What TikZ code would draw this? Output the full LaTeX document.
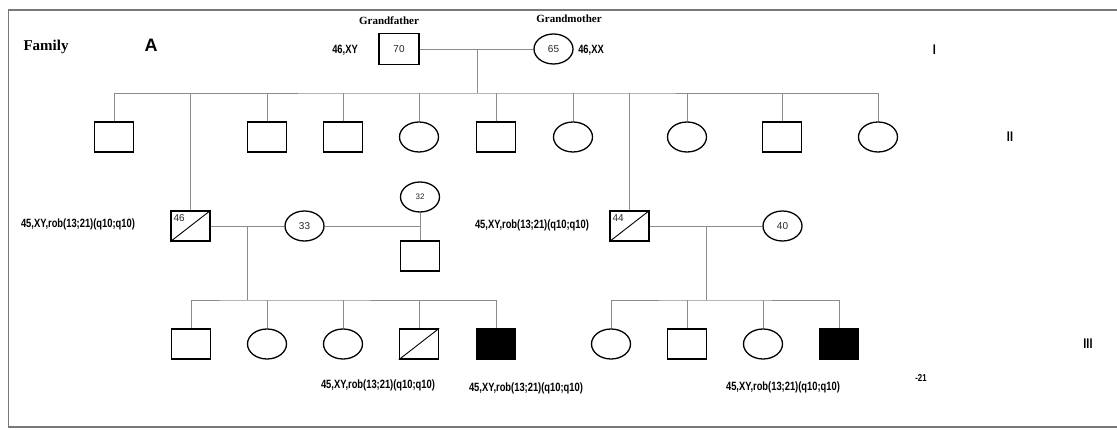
\documentclass[tikz,border=0pt]{standalone}
\usepackage{fontspec}
\setmainfont{Liberation Serif}
\setsansfont{Liberation Sans}
\newfontfamily\karfont[FakeStretch=0.78]{Liberation Sans}
\usetikzlibrary{shapes.geometric}
\definecolor{lnkgray}{RGB}{140,140,140}
\definecolor{framegray}{RGB}{120,120,120}

\begin{document}
\begin{tikzpicture}[x=1pt,y=-1pt,
  male/.style={draw,line width=1.3pt,minimum width=39pt,minimum height=30pt,inner sep=0pt,text=black!85,font=\sffamily\fontsize{10}{11}\selectfont},
  female/.style={male,ellipse},
  affected/.style={male,fill=black},
  lnk/.style={draw=lnkgray,line width=0.9pt},
  kar/.style={font=\karfont\bfseries\fontsize{12}{13}\selectfont,inner sep=1pt},
  gen/.style={font=\karfont\bfseries\fontsize{14}{15}\selectfont},
  ttl/.style={font=\bfseries\fontsize{11}{12}\selectfont,inner sep=1pt}]
  \useasboundingbox (0,0) rectangle (1117,430);
  \draw[framegray,line width=1.2pt] (1117,10) -- (8.5,10) -- (8.5,427) -- (1117,427);
  \node[font=\bfseries\fontsize{15}{16}\selectfont] (fam) at (46,47) {Family};
  \node[font=\sffamily\bfseries\fontsize{18}{19}\selectfont] (fa) at (151,45) {A};
  % generation I
  \node[male,minimum width=40pt,minimum height=31pt] (gf) at (399,49) {70};
  \node[female] (gm) at (553.5,49) {65};
  \node[ttl] (gfl) at (389,21) {Grandfather};
  \node[ttl] (gml) at (569,19) {Grandmother};
  \node[kar] (gfk) at (345,50) {46,XY};
  \node[kar] (gmk) at (591,50) {46,XX};
  \node[gen] (g1) at (934.5,50) {I};
  \coordinate (gmid) at (477.5,49);
  \coordinate (gsib) at (477.5,93);
  \draw[lnk] (gf) -- (gm);
  \draw[lnk] (gmid) -- (gsib);
  % generation II
  \node[male] (ii1) at (114,137) {};
  \node[male] (ii2) at (267,137) {};
  \node[male] (ii3) at (343,137) {};
  \node[female] (ii4) at (419,137) {};
  \node[male] (ii5) at (496,137) {};
  \node[female] (ii6) at (573,137) {};
  \node[female] (ii7) at (687,137) {};
  \node[male] (ii8) at (782,137) {};
  \node[female] (ii9) at (878,137) {};
  \node[gen] (g2) at (1010,137) {II};
  \draw[lnk] (ii1.north) |- (gsib) -| (ii9.north);
  \foreach \k in {ii2,ii3,ii4,ii5,ii6,ii7,ii8}
    \draw[lnk] (\k.north) -- (\k.north |- gsib);
  % couple 1
  \node[male] (p46) at (190.5,226) {};
  \draw[line width=0.9pt] (p46.south west) -- (p46.north east);
  \node[anchor=north west,inner sep=1pt,text=black!85,font=\sffamily\fontsize{10}{11}\selectfont] (n46) at ([shift={(2pt,-3pt)}]p46.north west) {46};
  \node[female] (w33) at (304.5,226) {33};
  \node[female,font=\sffamily\fontsize{8}{9}\selectfont] (w32) at (420,197) {32};
  \node[male] (s32) at (420,256) {};
  \node[kar] (k46) at (78,224) {45,XY,rob(13;21)(q10;q10)};
  \draw[lnk] (p46) -- (w33);
  \draw[lnk] (w33) -- (w33 -| w32);
  \draw[lnk] (w32) -- (s32);
  \draw[lnk] (p46.north) -- (p46.north |- gsib);
  % couple 2
  \node[male] (p44) at (629.5,226) {};
  \draw[line width=0.9pt] (p44.south west) -- (p44.north east);
  \node[anchor=north west,inner sep=1pt,text=black!85,font=\sffamily\fontsize{10}{11}\selectfont] (n44) at ([shift={(2pt,-3pt)}]p44.north west) {44};
  \node[female] (w40) at (782.5,226) {40};
  \node[kar] (k44) at (532,225) {45,XY,rob(13;21)(q10;q10)};
  \draw[lnk] (p44) -- (w40);
  \draw[lnk] (p44.north) -- (p44.north |- gsib);
  % generation III
  \node[male] (iii1) at (191,344) {};
  \node[female] (iii2) at (267,344) {};
  \node[female] (iii3) at (343,344) {};
  \node[male] (iii4) at (419,344) {};
  \draw[line width=0.9pt] (iii4.south west) -- (iii4.north east);
  \node[affected] (iii5) at (496,344) {};
  \node[female] (iii6) at (611,344) {};
  \node[male] (iii7) at (687,344) {};
  \node[female] (iii8) at (763,344) {};
  \node[affected] (iii9) at (839,344) {};
  \node[gen] (g3) at (1088,344) {III};
  \coordinate (m1) at (247,226);
  \coordinate (s1) at (247,300);
  \coordinate (m2) at (706,226);
  \coordinate (s2) at (706,300);
  \draw[lnk] (m1) -- (s1);
  \draw[lnk] (iii1.north) |- (s1) -| (iii5.north);
  \foreach \k in {iii2,iii3,iii4}
    \draw[lnk] (\k.north) -- (\k.north |- s1);
  \draw[lnk] (m2) -- (s2);
  \draw[lnk] (iii6.north) |- (s2) -| (iii9.north);
  \foreach \k in {iii7,iii8}
    \draw[lnk] (\k.north) -- (\k.north |- s2);
  \node[kar] (k3) at (378,385) {45,XY,rob(13;21)(q10;q10)};
  \node[kar] (k4) at (526,388) {45,XY,rob(13;21)(q10;q10)};
  \node[kar] (k5) at (783,387) {45,XY,rob(13;21)(q10;q10)};
  \node[kar,font=\karfont\bfseries\fontsize{10}{11}\selectfont] (k21) at (921,378) {-21};
\end{tikzpicture}
\end{document}
